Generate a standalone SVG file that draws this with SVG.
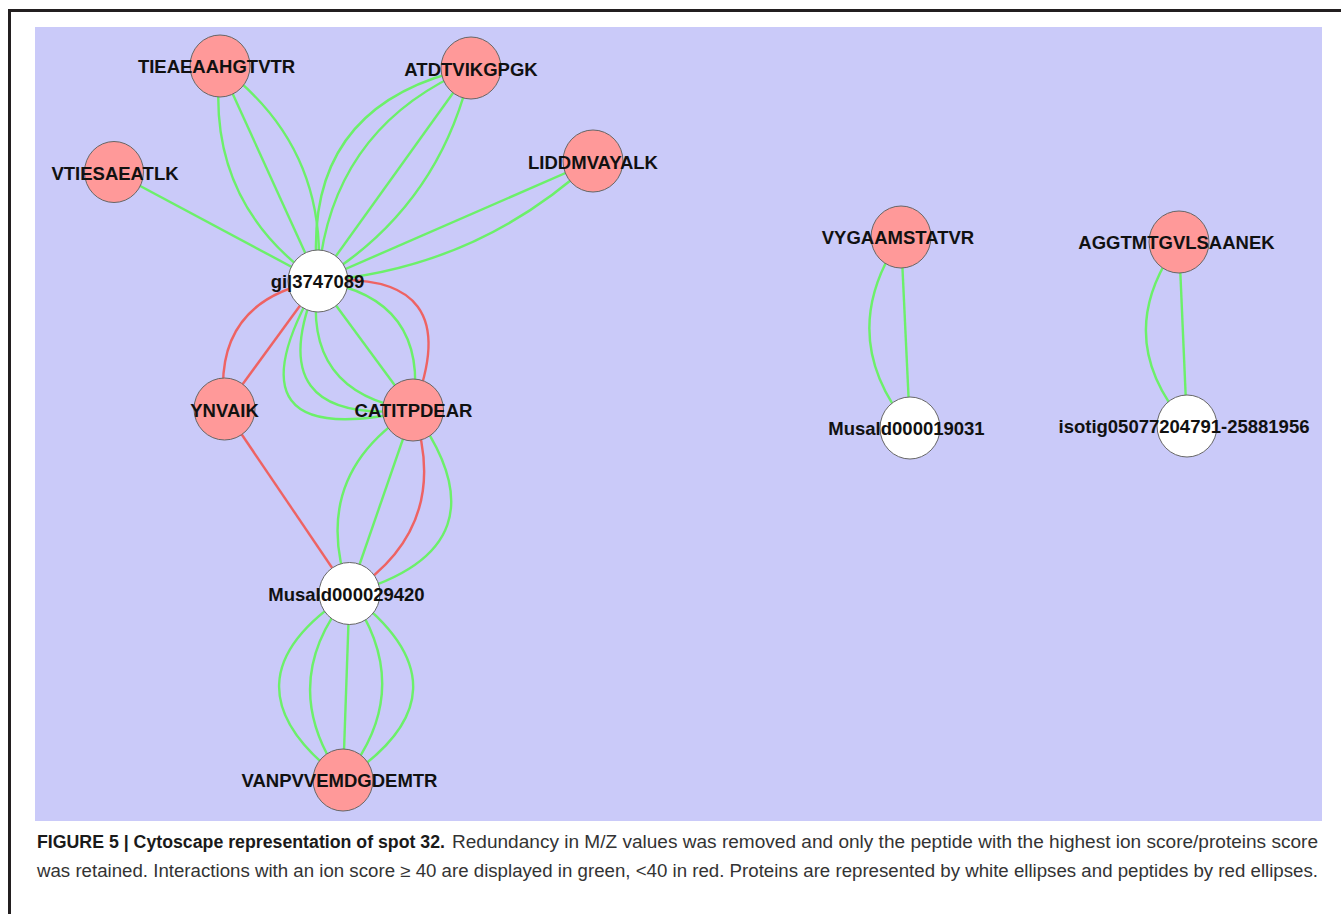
<svg xmlns="http://www.w3.org/2000/svg" width="1341" height="914" viewBox="0 0 1341 914">
<style>
.g{fill:none;stroke:#6cf06a;stroke-width:2.4}
.r{fill:none;stroke:#ee6363;stroke-width:2.4}
.pep{fill:#ff9999;stroke:#666;stroke-width:1}
.pro{fill:#ffffff;stroke:#666;stroke-width:1}
.lbl{font-family:"Liberation Sans",Arial,sans-serif;font-weight:bold;font-size:18.5px;fill:#111;text-anchor:middle}
.cap{font-family:"Liberation Sans",Arial,sans-serif;font-size:17.5px;fill:#333}
.capb{font-family:"Liberation Sans",Arial,sans-serif;font-size:17.5px;font-weight:bold;fill:#1a1a1a}
</style>
<rect x="0" y="0" width="1341" height="914" fill="#ffffff"/>
<path d="M9.5,914 V10.5 H1341" fill="none" stroke="#231f20" stroke-width="3"/>
<rect x="35" y="27" width="1287" height="794" fill="#cacaf9"/>
<g id="connectors">
<path class="g" d="M114,172 L318,281"/>
<path class="g" d="M220,66 L318,281"/>
<path class="g" d="M220,66 Q205,202.5 318,281"/>
<path class="g" d="M220,66 Q329,146.5 318,281"/>
<path class="g" d="M471,68 Q298,105 318,281"/>
<path class="g" d="M471,68 Q329.5,128 318,281"/>
<path class="g" d="M471,68 L318,281"/>
<path class="g" d="M471,68 Q440,207 318,281"/>
<path class="g" d="M593,161 L318,281"/>
<path class="g" d="M593,161 Q476,269 318,281"/>
<path class="r" d="M318,281 L224.5,409"/>
<path class="r" d="M318,281 Q211,301 224.5,409"/>
<path class="r" d="M318,281 Q470,268 413,410"/>
<path class="g" d="M318,281 Q430,298 413,410"/>
<path class="g" d="M318,281 L413,410"/>
<path class="g" d="M318,281 Q301,393 413,410"/>
<path class="g" d="M318,281 Q256,426 413,410"/>
<path class="g" d="M318,281 Q217,455 413,410"/>
<path class="g" d="M413,410 Q307.5,476 349.5,593.5"/>
<path class="g" d="M413,410 L349.5,593.5"/>
<path class="r" d="M413,410 Q453,527 349.5,593.5"/>
<path class="g" d="M413,410 Q513.6,547.5 349.5,593.5"/>
<path class="r" d="M224.5,409 L349.5,593.5"/>
<path class="g" d="M349.5,593.5 Q212,682 343,780"/>
<path class="g" d="M349.5,593.5 Q274,684 343,780"/>
<path class="g" d="M349.5,593.5 L343,780"/>
<path class="g" d="M349.5,593.5 Q418,689 343,780"/>
<path class="g" d="M349.5,593.5 Q480,691 343,780"/>
<path class="g" d="M901,237 L910,428"/>
<path class="g" d="M901,237 Q833.5,336 910,428"/>
<path class="g" d="M1179,242 L1187,426"/>
<path class="g" d="M1179,242 Q1109,337 1187,426"/>
</g>
<g id="n-TIEAEAAHGTVTR"><ellipse class="pep" cx="220" cy="66" rx="30" ry="31"/><text class="lbl" x="216.5" y="73">TIEAEAAHGTVTR</text></g>
<g id="n-ATDTVIKGPGK"><ellipse class="pep" cx="471" cy="68" rx="30" ry="31"/><text class="lbl" x="471" y="76">ATDTVIKGPGK</text></g>
<g id="n-VTIESAEATLK"><ellipse class="pep" cx="114" cy="172" rx="29.5" ry="30.5"/><text class="lbl" x="115" y="180">VTIESAEATLK</text></g>
<g id="n-LIDDMVAYALK"><ellipse class="pep" cx="593" cy="161" rx="30" ry="31"/><text class="lbl" x="593" y="169">LIDDMVAYALK</text></g>
<g id="n-gi3747089"><ellipse class="pro" cx="318" cy="281" rx="30" ry="31"/><text class="lbl" x="317.5" y="288">gi|3747089</text></g>
<g id="n-YNVAIK"><ellipse class="pep" cx="224.5" cy="409" rx="30.5" ry="31"/><text class="lbl" x="224.5" y="417">YNVAIK</text></g>
<g id="n-CATITPDEAR"><ellipse class="pep" cx="413" cy="410" rx="30.5" ry="31"/><text class="lbl" x="413.5" y="417">CATITPDEAR</text></g>
<g id="n-Musald000029420"><ellipse class="pro" cx="349.5" cy="593.5" rx="30.5" ry="31"/><text class="lbl" x="346.5" y="601">Musald000029420</text></g>
<g id="n-VANPVVEMDGDEMTR"><ellipse class="pep" cx="343" cy="780" rx="30" ry="31"/><text class="lbl" x="339.5" y="787">VANPVVEMDGDEMTR</text></g>
<g id="n-VYGAAMSTATVR"><ellipse class="pep" cx="901" cy="237" rx="30" ry="31"/><text class="lbl" x="898" y="244">VYGAAMSTATVR</text></g>
<g id="n-Musald000019031"><ellipse class="pro" cx="910" cy="428" rx="30" ry="31"/><text class="lbl" x="906.5" y="435">Musald000019031</text></g>
<g id="n-AGGTMTGVLSAANEK"><ellipse class="pep" cx="1179" cy="242" rx="30" ry="31"/><text class="lbl" x="1176.5" y="249">AGGTMTGVLSAANEK</text></g>
<g id="n-isotig"><ellipse class="pro" cx="1187" cy="426" rx="30" ry="31"/><text class="lbl" x="1184" y="433">isotig05077204791-25881956</text></g>
<text class="capb" x="37" y="848" textLength="408" lengthAdjust="spacingAndGlyphs">FIGURE 5 | Cytoscape representation of spot 32.</text>
<text class="cap" x="452" y="848" textLength="866" lengthAdjust="spacingAndGlyphs">Redundancy in M/Z values was removed and only the peptide with the highest ion score/proteins score</text>
<text class="cap" x="37" y="877" textLength="1281" lengthAdjust="spacingAndGlyphs">was retained. Interactions with an ion score ≥ 40 are displayed in green, &lt;40 in red. Proteins are represented by white ellipses and peptides by red ellipses.</text>
</svg>
